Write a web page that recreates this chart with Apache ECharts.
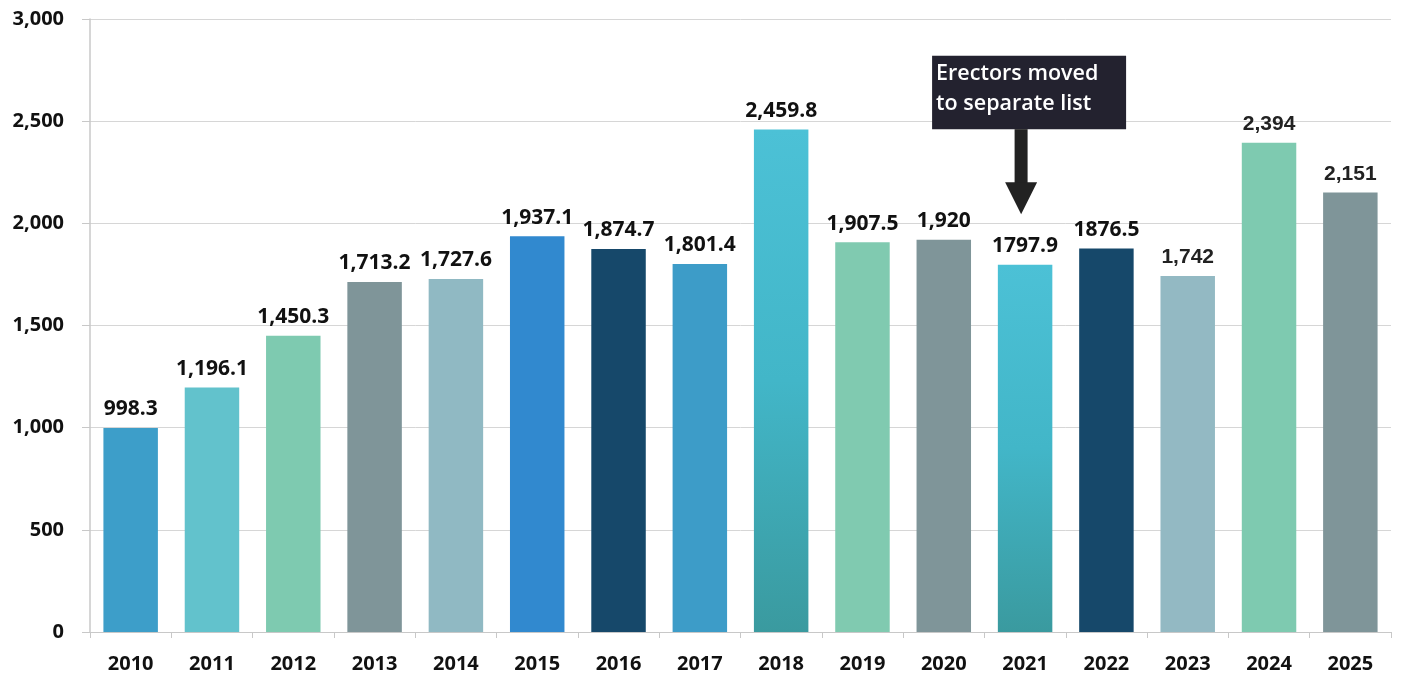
<!DOCTYPE html>
<html>
<head>
<meta charset="utf-8">
<script src="https://cdn.jsdelivr.net/npm/echarts@6/dist/echarts.min.js"></script>
<style>
  html, body { margin: 0; padding: 0; background: #fff; }
  #chart { width: 1405px; height: 677px; }
</style>
</head>
<body>
<div id="chart"></div>
<script>
// Annual totals, 2010–2025
const years = ['2010','2011','2012','2013','2014','2015','2016','2017','2018','2019','2020','2021','2022','2023','2024','2025'];
const totals = [998.3, 1196.1, 1450.3, 1713.2, 1727.6, 1937.1, 1874.7, 1801.4, 2459.8, 1907.5, 1920, 1797.9, 1876.5, 1742, 2394, 2151];
const valueLabels = ['998.3','1,196.1','1,450.3','1,713.2','1,727.6','1,937.1','1,874.7','1,801.4','2,459.8','1,907.5','1,920','1797.9','1876.5','1,742','2,394','2,151'];
const yTicks = [0, 500, 1000, 1500, 2000, 2500, 3000];
const noteText = 'Erectors moved\nto separate list';
const noteYear = '2021';

const barColors = [
  '#3d9ec9', '#62c2cc', '#7ecab0', '#7f9599', '#90b9c3', '#3189cf', '#16486a', '#3d9cc8',
  'grad', '#80cab0', '#7f9599', 'grad', '#16486a', '#93b9c3', '#7ecab0', '#7f9599'
];
// years whose value labels are set in a lighter face
const lightLabelYears = ['2023', '2024', '2025'];

const font = '"Open Sans", Lato, sans-serif';

function barFill(c) {
  if (c !== 'grad') return c;
  return new echarts.graphic.LinearGradient(0, 0, 0, 1, [
    { offset: 0, color: '#4cc1d6' },
    { offset: 0.5, color: '#42b6c8' },
    { offset: 1, color: '#3a9a9f' }
  ]);
}

const chart = echarts.init(document.getElementById('chart'), null, { renderer: 'canvas' });

const option = {
  animation: false,
  backgroundColor: '#ffffff',
  grid: { left: 90, right: 14, top: 19, bottom: 45, containLabel: false },
  xAxis: {
    type: 'category',
    data: years,
    boundaryGap: true,
    axisLine: { show: true, lineStyle: { color: '#c8c8c8', width: 1 } },
    axisTick: { show: true, length: 6, lineStyle: { color: '#c8c8c8' } },
    axisLabel: {
      margin: 22,
      color: '#111',
      fontFamily: font,
      fontWeight: 'bold',
      fontSize: 20
    }
  },
  yAxis: {
    type: 'value',
    min: yTicks[0],
    max: yTicks[yTicks.length - 1],
    interval: 500,
    axisLine: { show: true, lineStyle: { color: '#c8c8c8', width: 1.5 } },
    axisTick: { show: true, length: 8, lineStyle: { color: '#c8c8c8' } },
    splitLine: { show: true, lineStyle: { color: '#d6d6d6', width: 1 } },
    axisLabel: {
      margin: 26,
      color: '#111',
      fontFamily: font,
      fontWeight: 'bold',
      fontSize: 20,
      formatter: v => v.toLocaleString('en-US')
    }
  },
  series: [{
    type: 'bar',
    barWidth: '67%',
    data: totals.map((v, i) => ({
      value: v,
      itemStyle: { color: barFill(barColors[i]) },
      label: lightLabelYears.includes(years[i])
        ? { fontFamily: '"Liberation Sans", Arial, sans-serif', fontWeight: 'bold', fontSize: 21, color: '#222' }
        : {}
    })),
    label: {
      show: true,
      position: 'top',
      distance: 8,
      color: '#111',
      fontFamily: font,
      fontWeight: 'bold',
      fontSize: 21,
      formatter: p => valueLabels[p.dataIndex]
    }
  }]
};

chart.setOption(option);

// Callout box with a downward arrow pointing at the noted year
function drawNote() {
  const idx = years.indexOf(noteYear);
  const toPx = v => chart.convertToPixel({ xAxisIndex: 0, yAxisIndex: 0 }, [idx, v]);
  const tip = toPx(2045);
  const boxTop = toPx(2820)[1];
  const boxBottom = toPx(2500)[1] + 8;
  const x = tip[0] - 4;
  const boxW = 194, boxLeft = x - 89;
  const headTop = tip[1] - 32;
  chart.setOption({
    graphic: [
      {
        type: 'rect', z: 100,
        shape: { x: boxLeft, y: boxTop, width: boxW, height: boxBottom - boxTop },
        style: { fill: '#23222f' }
      },
      {
        type: 'text', z: 101,
        x: boxLeft + 4, y: boxTop + 3,
        style: {
          text: noteText,
          fill: '#ffffff',
          font: '600 21.5px ' + font,
          lineHeight: 30
        }
      },
      {
        type: 'rect', z: 100,
        shape: { x: x - 6.5, y: boxBottom, width: 13, height: headTop - boxBottom + 1 },
        style: { fill: '#222222' }
      },
      {
        type: 'polygon', z: 100,
        shape: { points: [[x - 16, headTop], [x + 16, headTop], [x, tip[1]]] },
        style: { fill: '#222222' }
      }
    ]
  });
}
drawNote();
</script>
</body>
</html>
